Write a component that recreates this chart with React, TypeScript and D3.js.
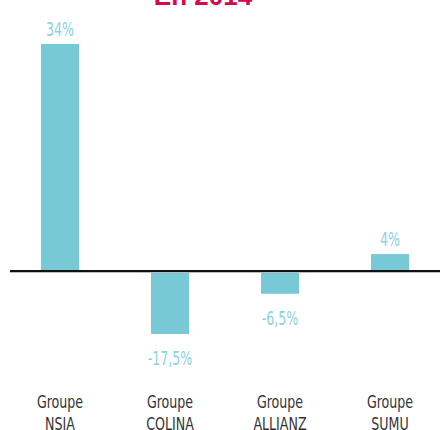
import * as d3 from 'd3'
import React from 'react'

const groups = ['NSIA', 'COLINA', 'ALLIANZ', 'SUMU']
const values = [34, -17.5, -6.5, 4]
const valueLabels = ['34%', '-17,5%', '-6,5%', '4%']
const title = 'En 2014'

const W = 440
const H = 430
const FONT = '"DejaVu Sans Condensed", "DejaVu Sans", sans-serif'
const BAR = '#77c9d6'
const LABEL = '#8ed1de'

const App = () => {
    const x = d3.scalePoint<string>().domain(groups).range([60, 390])
    const zeroY = 270
    // the positive and negative halves of the original are not drawn at the same scale
    const yPos = d3.scalePow().exponent(1.24).domain([0, d3.max(values)]).range([zeroY, 44])
    const yNeg = d3.scaleLinear().domain([0, d3.min(values)]).range([zeroY, 334])
    const y = (v: number) => (v >= 0 ? yPos(v) : yNeg(v))
    const barW = 38

    return (
        <div style={{ position: 'fixed', left: 0, top: 0, width: W, height: H, background: '#fff' }}>
            <svg width={W} height={H} style={{ display: 'block' }}>
                <text
                    x={203}
                    y={5}
                    textAnchor="middle"
                    fontFamily='"Liberation Sans", Arial, sans-serif'
                    fontWeight="bold"
                    fontSize={26}
                    fill="#d6084f"
                >
                    {title}
                </text>

                {values.map((v, i) => {
                    const cx = x(groups[i])
                    const y0 = Math.min(y(v), zeroY)
                    const h = Math.abs(y(v) - zeroY)
                    return (
                        <g key={groups[i]}>
                            <rect x={cx - barW / 2} y={y0} width={barW} height={h + (v > 0 ? 3 : 0)} fill={BAR} />
                            <text
                                transform={`translate(${cx},${v >= 0 ? y(v) - 8 : y(v) + 31}) scale(0.74,1)`}
                                textAnchor="middle"
                                fontFamily={FONT}
                                fontSize={19}
                                fill={LABEL}
                            >
                                {valueLabels[i]}
                            </text>
                            <text
                                transform={`translate(${cx},0) scale(0.76,1)`}
                                textAnchor="middle"
                                fontFamily={FONT}
                                fontSize={18.5}
                                fill="#333"
                            >
                                <tspan x={0} y={408}>
                                    Groupe
                                </tspan>
                                <tspan x={0} y={430}>
                                    {groups[i]}
                                </tspan>
                            </text>
                        </g>
                    )
                })}

                <line x1={10} x2={W} y1={272.5} y2={272.5} stroke="#bbb" strokeWidth={1} />
                <line x1={10} x2={W} y1={271} y2={271} stroke="#111" strokeWidth={2} />
            </svg>
        </div>
    )
}

export default App
